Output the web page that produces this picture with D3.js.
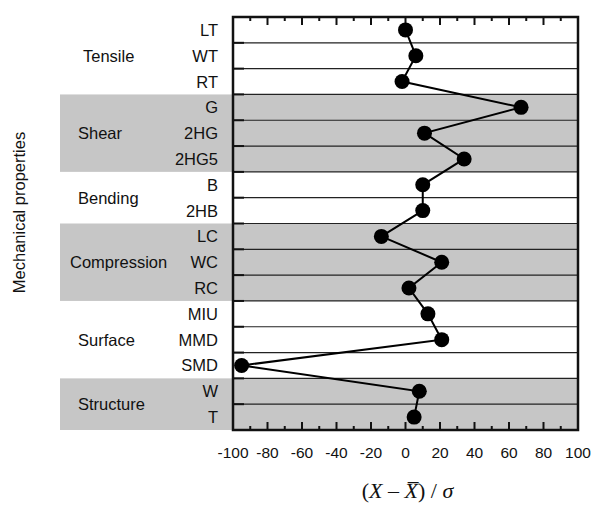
<!DOCTYPE html>
<html>
<head>
<meta charset="utf-8">
<script src="https://cdn.jsdelivr.net/npm/d3@7"></script>
<style>
  body { margin: 0; background: #fff; }
  text { font-family: "Liberation Sans", Arial, sans-serif; fill: #111; }
</style>
</head>
<body>
<svg id="chart" width="593" height="505"></svg>
<script>
// properties top to bottom and their standardised values
var properties = ["LT", "WT", "RT", "G", "2HG", "2HG5", "B", "2HB", "LC", "WC", "RC", "MIU", "MMD", "SMD", "W", "T"];
var values = [0, 6, -2, 67, 11, 34, 10, 10, -14, 21, 2, 13, 21, -95, 8, 5];

// groups of properties, the shaded flag marks the grey bands
var groupNames = ["Tensile", "Shear", "Bending", "Compression", "Surface", "Structure"];
var groupStart = [0, 3, 6, 8, 11, 14];
var groupSize = [3, 3, 2, 3, 3, 2];
var groupShaded = [false, true, false, true, false, true];

var xTicks = [-100, -80, -60, -40, -20, 0, 20, 40, 60, 80, 100];

var margin = {left: 233, right: 15, top: 17, bottom: 75};
var width = 593 - margin.left - margin.right;
var height = 505 - margin.top - margin.bottom;

var svg = d3.select("#chart");
var g = svg.append("g").attr("transform", "translate(" + margin.left + "," + margin.top + ")");

var x = d3.scaleLinear().domain([-100, 100]).range([0, width]);
var y = d3.scaleBand().domain(properties).range([0, height]);
var rowH = y.bandwidth();

//grey bands reach out behind the labels
g.selectAll(".band")
  .data(groupNames.filter(function (d, i) { return groupShaded[i]; }))
  .enter().append("rect")
  .attr("class", "band")
  .attr("x", 60 - margin.left)
  .attr("width", width + margin.left - 60)
  .attr("y", function (d) { return y(properties[groupStart[groupNames.indexOf(d)]]); })
  .attr("height", function (d) { return groupSize[groupNames.indexOf(d)] * rowH; })
  .style("fill", "#c6c6c6");

//row separators
g.selectAll(".sep")
  .data(properties.slice(1))
  .enter().append("line")
  .attr("x1", 0).attr("x2", width)
  .attr("y1", function (d) { return y(d); })
  .attr("y2", function (d) { return y(d); })
  .style("stroke", "#222")
  .style("stroke-width", 1.2);

//short thick ticks on the left edge
g.selectAll(".ltick")
  .data(properties.slice(1))
  .enter().append("line")
  .attr("x1", 0).attr("x2", 11)
  .attr("y1", function (d) { return y(d); })
  .attr("y2", function (d) { return y(d); })
  .style("stroke", "#111")
  .style("stroke-width", 2);

//minor and major ticks pointing inward, top and bottom
var minor = d3.range(-90, 100, 20);
function drawTicks(y0, dir) {
  g.selectAll(null).data(xTicks.slice(1, -1)).enter().append("line")
    .attr("x1", function (d) { return x(d); }).attr("x2", function (d) { return x(d); })
    .attr("y1", y0).attr("y2", y0 + dir * 8)
    .style("stroke", "#111").style("stroke-width", 2);
  g.selectAll(null).data(minor).enter().append("line")
    .attr("x1", function (d) { return x(d); }).attr("x2", function (d) { return x(d); })
    .attr("y1", y0).attr("y2", y0 + dir * 4)
    .style("stroke", "#111").style("stroke-width", 2);
}
drawTicks(0, 1);
drawTicks(height, -1);

//frame
g.append("rect")
  .attr("width", width).attr("height", height)
  .style("fill", "none").style("stroke", "#111").style("stroke-width", 2.5);

//tick labels for x
g.selectAll(".xlab")
  .data(xTicks)
  .enter().append("text")
  .attr("x", function (d) { return x(d); })
  .attr("y", height + 28)
  .attr("text-anchor", "middle")
  .style("font-size", "15.5px")
  .text(function (d) { return d; });

//property labels
g.selectAll(".plab")
  .data(properties)
  .enter().append("text")
  .attr("x", -15)
  .attr("y", function (d) { return y(d) + rowH / 2 + 6; })
  .attr("text-anchor", "end")
  .style("font-size", "16.5px")
  .text(function (d) { return d; });

//group labels, roughly left aligned like the original
g.selectAll(".glab")
  .data(groupNames)
  .enter().append("text")
  .attr("x", function (d) {
    if (d === "Compression") { return 70 - margin.left; }
    if (d === "Tensile") { return 83 - margin.left; }
    return 78 - margin.left;
  })
  .attr("y", function (d, i) { return y(properties[groupStart[i]]) + groupSize[i] * rowH / 2 + 6; })
  .style("font-size", "16.5px")
  .text(function (d) { return d; });

//the profile line
var line = d3.line()
  .x(function (d) { return x(d); })
  .y(function (d, i) { return y(properties[i]) + rowH / 2; });

g.append("path")
  .datum(values)
  .attr("d", line)
  .style("fill", "none")
  .style("stroke", "#000")
  .style("stroke-width", 2);

g.selectAll(".dot")
  .data(values)
  .enter().append("circle")
  .attr("cx", function (d) { return x(d); })
  .attr("cy", function (d, i) { return y(properties[i]) + rowH / 2; })
  .attr("r", 7.5)
  .style("fill", "#000");

//axis titles
svg.append("text")
  .attr("transform", "translate(25," + (margin.top + height / 2 - 11) + ") rotate(-90)")
  .attr("text-anchor", "middle")
  .style("font-size", "16.5px")
  .text("Mechanical properties");

var xt = svg.append("text")
  .attr("x", margin.left + x(0) + 2)
  .attr("y", 498)
  .attr("text-anchor", "middle")
  .style("font-family", "'Liberation Serif', 'DejaVu Serif', serif")
  .style("font-size", "22px");
xt.append("tspan").style("font-style", "normal").text("(");
xt.append("tspan").style("font-style", "italic").text("X");
xt.append("tspan").style("font-style", "normal").text(" \u2013 ");
xt.append("tspan").style("font-style", "italic").text("X\u0305");
xt.append("tspan").style("font-style", "normal").text(") / ");
xt.append("tspan").style("font-style", "italic").text("\u03c3");
</script>
</body>
</html>
